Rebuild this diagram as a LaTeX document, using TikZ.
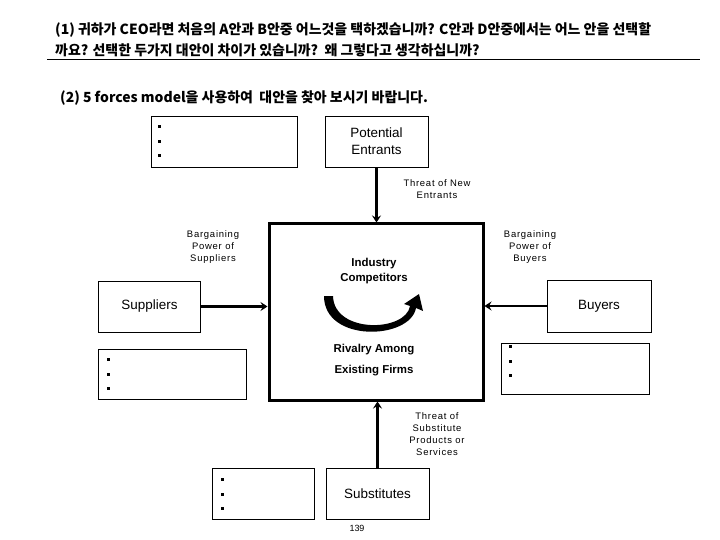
\documentclass[tikz,border=0pt]{standalone}
\usepackage{fontspec}
\setmainfont{Liberation Sans}
\newfontfamily\krfont{Noto Sans CJK KR}
\newfontfamily\spacedfont[LetterSpace=8]{Liberation Sans}
\usetikzlibrary{arrows.meta,positioning}

\begin{document}
\begin{tikzpicture}[x=1bp, y=-1bp,
  every node/.style={inner sep=0pt},
  box/.style={draw, line width=0.8bp, align=center, font=\fontsize{13.5}{17}\selectfont},
  notes/.style={draw, line width=0.8bp},
  hdr/.style={anchor=west, font=\krfont\bfseries\fontsize{14}{16}\selectfont},
  lbl/.style={align=center, font=\spacedfont\fontsize{9.5}{12}\selectfont},
  core/.style={align=center, font=\bfseries\fontsize{11.5}{15}\selectfont},
  arr/.style={line width=2.5bp, -{Stealth[length=7bp, width=9bp, inset=2.5bp]}}
]
\useasboundingbox[fill=white] (0,0) rectangle (720,540);
% question text
\node[hdr] (q1a) at (55,30) {(1) 귀하가 CEO라면 처음의 A안과 B안중 어느것을 택하겠습니까? C안과 D안중에서는 어느 안을 선택할};
\node[hdr] (q1b) at (55,50) {까요? 선택한 두가지 대안이 차이가 있습니까?\ \ 왜 그렇다고 생각하십니까?};
\draw[line width=0.8bp] (47,59) -- (700,59);
\node[hdr] (q2) at (60,98) {(2) 5 forces model을 사용하여\ \ 대안을 찾아 보시기 바랍니다.};
% the five forces
\node[box, line width=3bp, minimum width=214bp, minimum height=176bp] (ic) at (376,312) {};
\node[box, minimum width=103bp, minimum height=51bp] (pe) at (376.5,141.5) {Potential\\Entrants};
\node[box, minimum width=102bp, minimum height=51bp] (sup) at (149.5,306.5) {Suppliers};
\node[box, minimum width=104bp, minimum height=52bp] (buy) at (599,306) {Buyers};
\node[box, minimum width=103bp, minimum height=51bp] (sub) at (377.5,493.5) {Substitutes};
% boxes for the answers
\node[notes, minimum width=146bp, minimum height=51bp] (notePE) at (224,141.5) {};
\node[notes, minimum width=148bp, minimum height=50bp] (noteSup) at (172,374) {};
\node[notes, minimum width=148bp, minimum height=51bp] (noteBuy) at (575,368.5) {};
\node[notes, minimum width=102bp, minimum height=51bp] (noteSub) at (263,493.5) {};
\foreach \n/\dx/\dy in {notePE/9/11, noteSup/11/11, noteBuy/10/4, noteSub/11/12}
  \foreach \k in {0,1,2}
    \fill ([shift={(\dx-1.5,\dy-1.5+14.5*\k)}]\n.north west) rectangle ++(3,3);
% labels
\node[lbl] (lblNew) at (437,189.5) {Threat of New\\Entrants};
\node[lbl] (lblSup) at (213,247) {Bargaining\\Power of\\Suppliers};
\node[lbl] (lblBuy) at (530,247) {Bargaining\\Power of\\Buyers};
\node[lbl] (lblSub) at (437,434) {Threat of\\Substitute\\Products or\\Services};
\node[core] (icName) at (374,271) {Industry\\Competitors};
\node[core] (riv1) at (374,350) {Rivalry Among};
\node[core] (riv2) at (374,371) {Existing Firms};
\node[font=\fontsize{9}{11}\selectfont] (pg) at (357,528) {139};
% arrows
\draw[arr] (pe.south) -- (pe.south |- ic.north);
\draw[arr] (sub.north) -- (sub.north |- ic.south);
\draw[arr] (sup.east) -- (sup.east -| ic.west);
\draw[arr] (buy.west) -- (buy.west -| ic.east);
% rivalry arrow
\fill (324,296) .. controls (324,343) and (410,340) .. (416,308)
  -- (423,311) -- (419,294) -- (404,304) -- (410,306)
  .. controls (406,332) and (334,334) .. (333,296) -- cycle;
\end{tikzpicture}
\end{document}
